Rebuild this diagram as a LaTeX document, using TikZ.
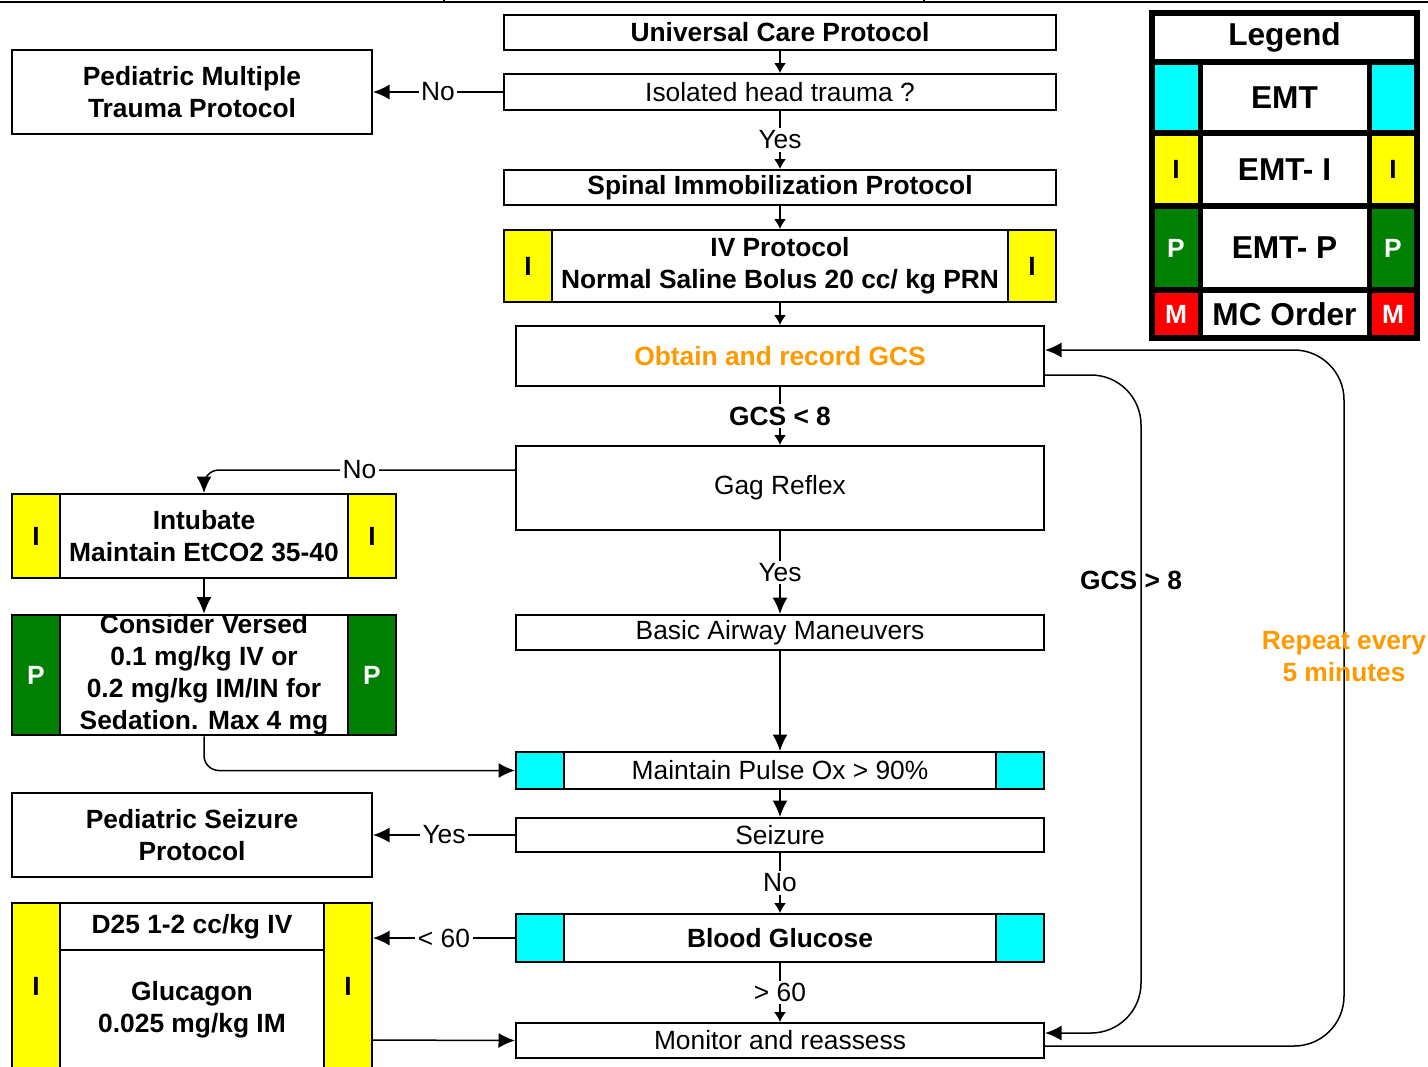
\documentclass[tikz,border=0pt]{standalone}
\usepackage{fontspec}
\setmainfont{Liberation Sans}
\usetikzlibrary{positioning,arrows.meta}

\definecolor{emtcyan}{RGB}{0,255,255}
\definecolor{emtyellow}{RGB}{255,255,0}
\definecolor{emtgreen}{RGB}{0,128,0}
\definecolor{mcred}{RGB}{255,0,0}
\definecolor{gcsorange}{RGB}{255,153,0}
\newcommand{\txt}{\fontsize{15}{18.2}\selectfont}
\newcommand{\bigtxt}{\fontsize{18}{21}\selectfont}

\begin{document}
\begin{tikzpicture}[
        on grid,
        wire/.style={line width=0.03cm},
        box/.style={
          draw,line width=0.04cm,fill=white,align=center,inner sep=0pt,font=\txt},
        wide/.style={box,minimum width=11.04cm},
        main/.style={box,minimum width=10.56cm},
        side/.style={box,font=\txt\bfseries,minimum width=7.2cm,minimum height=1.68cm},
        legbox/.style={box,line width=0.11cm,minimum width=5.3cm,font=\bigtxt\bfseries},
        tag/.style n args={4}{path picture={
          \fill[#1] (path picture bounding box.south west)
            rectangle ([xshift=0.96cm]path picture bounding box.north west);
          \fill[#1] (path picture bounding box.south east)
            rectangle ([xshift=-0.96cm]path picture bounding box.north east);
          \draw[line width=#4] ([xshift=0.96cm]path picture bounding box.south west)
            -- ([xshift=0.96cm]path picture bounding box.north west);
          \draw[line width=#4] ([xshift=-0.96cm]path picture bounding box.south east)
            -- ([xshift=-0.96cm]path picture bounding box.north east);
          \node[font=\txt\bfseries,text=#3] at ([xshift=0.48cm]path picture bounding box.west) {#2};
          \node[font=\txt\bfseries,text=#3] at ([xshift=-0.48cm]path picture bounding box.east) {#2};}},
        lbl/.style={fill=white,inner sep=1.5pt,font=\txt},
        arr/.style={-{Latex[length=0.33cm,width=0.3cm]}},
        sarr/.style={-{Latex[length=0.2cm,width=0.24cm]}},
        every edge/.append style={wire}]
      \useasboundingbox (0,0) rectangle (28.56,-21.32);
      \clip (0,0) rectangle (28.56,-21.32);
      % rule cut off at the top of the page
      \draw[line width=0.04cm] (0,-0.03) -- (28.56,-0.03);
      \draw[line width=0.04cm] (8.88,0) -- (8.88,-0.05) (18.48,0) -- (18.48,-0.05);

      % main column
      \node[wide,minimum height=0.7cm,font=\txt\bfseries] (uni) at (15.6,-0.65) {Universal Care Protocol};
      \node[wide,minimum height=0.72cm,below=1.19cm of uni] (iso) {Isolated head trauma ?};
      \node[wide,minimum height=0.7cm,font=\txt\bfseries,below=1.91cm of iso] (spine) {Spinal Immobilization Protocol};
      \node[wide,minimum height=1.44cm,font=\txt\bfseries,tag={emtyellow}{I}{black}{0.04cm},
        below=1.57cm of spine] (iv) {IV Protocol\\Normal Saline Bolus 20 cc/ kg PRN};
      \node[main,minimum height=1.2cm,font=\txt\bfseries,text=gcsorange,below=1.8cm of iv] (gcs) {Obtain and record GCS};
      \node[main,minimum height=1.68cm,below=2.64cm of gcs] (gag) {Gag Reflex};
      \node[main,minimum height=0.7cm,below=2.89cm of gag] (airway) {Basic Airway Maneuvers};
      \node[main,minimum height=0.74cm,tag={emtcyan}{}{black}{0.04cm},below=2.76cm of airway] (pulse) {Maintain Pulse Ox > 90\%};
      \node[main,minimum height=0.68cm,below=1.29cm of pulse] (seiz) {Seizure};
      \node[main,minimum height=0.96cm,font=\txt\bfseries,tag={emtcyan}{}{black}{0.04cm},
        below=2.06cm of seiz] (gluc) {Blood Glucose};
      \node[main,minimum height=0.7cm,below=2.05cm of gluc] (mon) {Monitor and reassess};

      % left column
      \node[side,left=11.76cm of iso] (pmt) {Pediatric Multiple\\Trauma Protocol};
      \node[box,font=\txt\bfseries,minimum width=7.68cm,minimum height=1.68cm,tag={emtyellow}{I}{black}{0.04cm},
        below left=0.96cm and 11.52cm of gag] (intub) {Intubate\\Maintain EtCO2 35-40};
      \node[box,font=\txt\bfseries,minimum width=7.68cm,minimum height=2.4cm,tag={emtgreen}{P}{white}{0.04cm},
        below=2.78cm of intub] (versed) {Consider Versed\\0.1 mg/kg IV or\\0.2 mg/kg IM/IN for\\Sedation. Max 4 mg};
      \node[side,left=11.76cm of seiz] (pseiz) {Pediatric Seizure\\Protocol};
      \node[box,minimum width=7.2cm,minimum height=3.32cm,tag={emtyellow}{I}{black}{0.04cm},
        below left=0.96cm and 11.76cm of gluc] (dex) {};
      \draw[line width=0.04cm] ([xshift=0.96cm,yshift=0.72cm]dex.west) -- ([xshift=-0.96cm,yshift=0.72cm]dex.east);
      \node[font=\txt\bfseries,above=1.18cm of dex] (d25) {D25 1-2 cc/kg IV};
      \node[font=\txt\bfseries,align=center,below=0.48cm of dex] (glucagon) {Glucagon\\0.025 mg/kg IM};

      % legend
      \node[legbox,minimum height=0.98cm,below right=0.1cm and 10.09cm of uni] (legend) {Legend};
      \node[legbox,minimum height=1.42cm,tag={emtcyan}{}{black}{0.1cm},below=1.2cm of legend] (emt) {EMT};
      \node[legbox,minimum height=1.46cm,tag={emtyellow}{I}{black}{0.1cm},below=1.44cm of emt] (emti) {EMT- I};
      \node[legbox,minimum height=1.68cm,tag={emtgreen}{P}{white}{0.1cm},below=1.57cm of emti] (emtp) {EMT- P};
      \node[legbox,minimum height=0.96cm,tag={mcred}{M}{white}{0.1cm},below=1.32cm of emtp] (mc) {MC Order};

      % connectors
      \path (uni) edge[sarr] (iso)
            (iso) edge[arr] node[lbl] {No} (pmt)
            (iso) edge[sarr] node[lbl] {Yes} (spine)
            (spine) edge[sarr] (iv)
            (iv) edge[sarr] (gcs)
            (gcs) edge[sarr] node[lbl,font=\txt\bfseries] {GCS < 8} (gag)
            (gag) edge[arr] node[lbl] {Yes} (airway)
            (airway) edge[arr] (pulse)
            (intub) edge[arr] (versed)
            (pulse) edge[arr] (seiz)
            (seiz) edge[arr] node[lbl] {Yes} (pseiz)
            (seiz) edge[sarr] node[lbl] {No} (gluc)
            (gluc) edge[sarr] node[lbl] {> 60} (mon);
      \draw[wire,arr,rounded corners=0.3cm] ([yshift=0.36cm]gag.west) -| node[lbl,pos=0.25] {No} (intub);
      \draw[wire,arr,rounded corners=0.3cm] (versed) |- (pulse);
      \draw[wire,arr] (gluc) -- node[lbl] {< 60} (gluc -| dex.east);
      \draw[wire,arr] ([yshift=-1.08cm]dex.east) -- (mon.west);
      \draw[wire,arr,rounded corners=1cm] ([yshift=-0.38cm]gcs.east) -- ++(1.92cm,0)
        |- node[pos=0.156,xshift=-0.2cm,font=\txt\bfseries] {GCS > 8} ([yshift=0.15cm]mon.east);
      \draw[wire,arr,rounded corners=1cm] ([yshift=-0.11cm]mon.east) -- ++(5.98cm,0)
        |- node[pos=0.28,font=\txt\bfseries,text=gcsorange,align=center] {Repeat every\\5 minutes} ([yshift=0.12cm]gcs.east);
    \end{tikzpicture}
\end{document}
